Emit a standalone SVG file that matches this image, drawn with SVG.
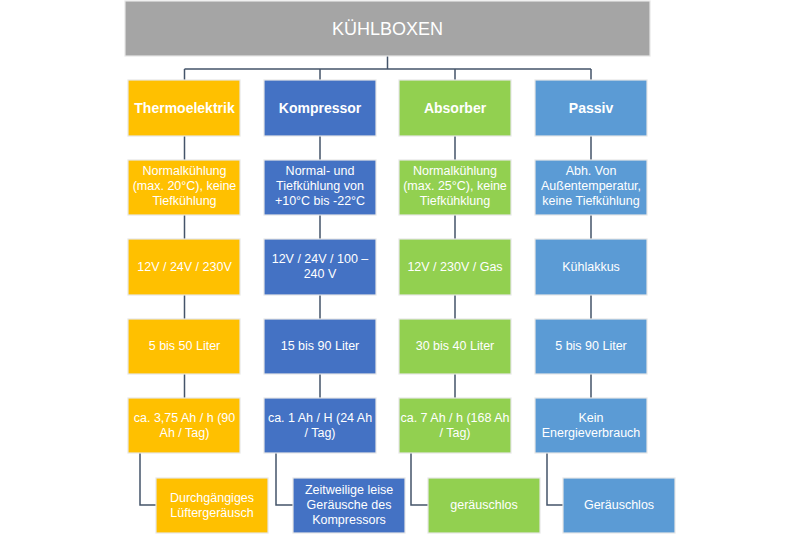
<svg xmlns="http://www.w3.org/2000/svg" width="800" height="537" viewBox="0 0 800 537">
<style>
.b{stroke:#e6e6e6;stroke-width:1.2}
.y{fill:#FFC000}.k{fill:#4472C4}.g{fill:#92D050}.p{fill:#5B9BD5}.h{fill:#A5A5A5}
text{font-family:"Liberation Sans",Arial,sans-serif;font-size:12.5px;fill:#ffffff;text-anchor:middle}
.t{font-size:14px;font-weight:bold}
.ti{font-size:18px}
.c{fill:none;stroke:#44546A;stroke-width:1.5}
</style>
<rect width="800" height="537" fill="#ffffff"/>
<g id="connectors">
<path class="c" d="M387.5 56V69M184.5 69H591M184.5 69V80M320 69V80M455 69V80M591 69V80"/>
<path class="c" d="M184.5 136V160M184.5 215V239M184.5 295V319M184.5 374V398M140 453V505H156"/>
<path class="c" d="M320 136V160M320 215V239M320 295V319M320 374V398M276 453V505H293"/>
<path class="c" d="M455 136V160M455 215V239M455 295V319M455 374V398M411 453V505H428"/>
<path class="c" d="M591 136V160M591 215V239M591 295V319M591 374V398M547 453V505H563"/>
</g>
<g id="header"><rect class="b h" x="125" y="1" width="525" height="55"/><text class="ti" x="387.5" y="34.5">KÜHLBOXEN</text></g>

<g id="thermo"><rect class="b y" x="128" y="80" width="112" height="56"/><text class="t" x="184.5" y="113">Thermoelektrik</text></g>
<g id="thermo2"><rect class="b y" x="128" y="160" width="112" height="55"/><text x="184.5" y="175">Normalkühlung</text><text x="184.5" y="190">(max. 20°C), keine</text><text x="184.5" y="205">Tiefkühlung</text></g>
<g id="thermo3"><rect class="b y" x="128" y="239" width="112" height="56"/><text x="184.5" y="271">12V / 24V / 230V</text></g>
<g id="thermo4"><rect class="b y" x="128" y="319" width="112" height="55"/><text x="184.5" y="350">5 bis 50 Liter</text></g>
<g id="thermo5"><rect class="b y" x="128" y="398" width="112" height="55"/><text x="184.5" y="422">ca. 3,75 Ah / h (90</text><text x="184.5" y="437">Ah / Tag)</text></g>
<g id="thermo6"><rect class="b y" x="156" y="478" width="112" height="55"/><text x="212" y="502">Durchgängiges</text><text x="212" y="517">Lüftergeräusch</text></g>

<g id="komp"><rect class="b k" x="264" y="80" width="112" height="56"/><text class="t" x="320" y="113">Kompressor</text></g>
<g id="komp2"><rect class="b k" x="264" y="160" width="112" height="55"/><text x="320" y="175">Normal- und</text><text x="320" y="190">Tiefkühlung von</text><text x="320" y="205">+10°C bis -22°C</text></g>
<g id="komp3"><rect class="b k" x="264" y="239" width="112" height="56"/><text x="320" y="263">12V / 24V / 100 –</text><text x="320" y="278">240 V</text></g>
<g id="komp4"><rect class="b k" x="264" y="319" width="112" height="55"/><text x="320" y="350">15 bis 90 Liter</text></g>
<g id="komp5"><rect class="b k" x="264" y="398" width="112" height="55"/><text x="320" y="422">ca. 1 Ah / H (24 Ah</text><text x="320" y="437">/ Tag)</text></g>
<g id="komp6"><rect class="b k" x="293" y="478" width="112" height="55"/><text x="349" y="494">Zeitweilige leise</text><text x="349" y="509">Geräusche des</text><text x="349" y="524">Kompressors</text></g>

<g id="abs"><rect class="b g" x="399" y="80" width="112" height="56"/><text class="t" x="455" y="113">Absorber</text></g>
<g id="abs2"><rect class="b g" x="399" y="160" width="112" height="55"/><text x="455" y="175">Normalkühlung</text><text x="455" y="190">(max. 25°C), keine</text><text x="455" y="205">Tiefkühklung</text></g>
<g id="abs3"><rect class="b g" x="399" y="239" width="112" height="56"/><text x="455" y="271">12V / 230V / Gas</text></g>
<g id="abs4"><rect class="b g" x="399" y="319" width="112" height="55"/><text x="455" y="350">30 bis 40 Liter</text></g>
<g id="abs5"><rect class="b g" x="399" y="398" width="112" height="55"/><text x="455" y="422">ca. 7 Ah / h (168 Ah</text><text x="455" y="437">/ Tag)</text></g>
<g id="abs6"><rect class="b g" x="428" y="478" width="112" height="55"/><text x="484" y="509">geräuschlos</text></g>

<g id="passiv"><rect class="b p" x="535" y="80" width="112" height="56"/><text class="t" x="591" y="113">Passiv</text></g>
<g id="passiv2"><rect class="b p" x="535" y="160" width="112" height="55"/><text x="591" y="175">Abh. Von</text><text x="591" y="190">Außentemperatur,</text><text x="591" y="205">keine Tiefkühlung</text></g>
<g id="passiv3"><rect class="b p" x="535" y="239" width="112" height="56"/><text x="591" y="271">Kühlakkus</text></g>
<g id="passiv4"><rect class="b p" x="535" y="319" width="112" height="55"/><text x="591" y="350">5 bis 90 Liter</text></g>
<g id="passiv5"><rect class="b p" x="535" y="398" width="112" height="55"/><text x="591" y="422">Kein</text><text x="591" y="437">Energieverbrauch</text></g>
<g id="passiv6"><rect class="b p" x="563" y="478" width="112" height="55"/><text x="619" y="509">Geräuschlos</text></g>
</svg>
